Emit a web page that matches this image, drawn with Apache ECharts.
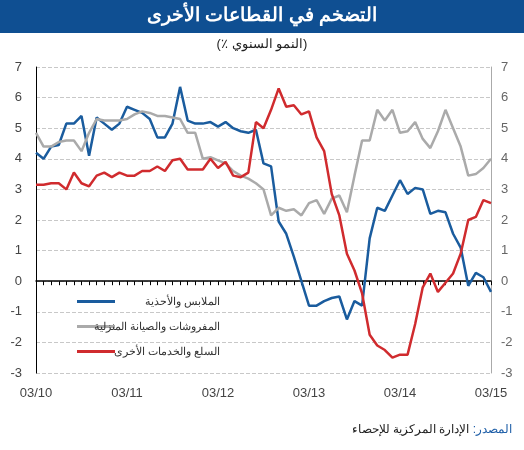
<!DOCTYPE html>
<html><head><meta charset="utf-8">
<script src="https://cdn.jsdelivr.net/npm/echarts@6/dist/echarts.min.js"></script>
<style>html,body{margin:0;padding:0;background:#fff}#c{width:524px;height:450px}</style>
</head><body><div id="c"></div>
<script>
const years = ['03/10','03/11','03/12','03/13','03/14','03/15'];
const clothing = [4.2,4.0,4.4,4.45,5.15,5.15,5.4,4.1,5.35,5.15,4.95,5.15,5.7,5.6,5.5,5.3,4.7,4.7,5.15,6.35,5.25,5.15,5.15,5.2,5.05,5.2,5.0,4.9,4.85,4.95,3.85,3.75,1.95,1.55,0.8,0.0,-0.8,-0.8,-0.65,-0.55,-0.5,-1.25,-0.65,-0.8,1.4,2.4,2.3,2.8,3.3,2.85,3.05,3.0,2.2,2.3,2.25,1.55,1.1,-0.15,0.27,0.13,-0.35];
const furnishings = [4.85,4.4,4.4,4.55,4.6,4.6,4.25,4.85,5.3,5.25,5.25,5.25,5.3,5.45,5.55,5.5,5.4,5.4,5.35,5.3,4.85,4.85,4.0,4.05,3.95,3.85,3.6,3.45,3.35,3.2,3.0,2.15,2.4,2.3,2.35,2.15,2.55,2.65,2.2,2.7,2.8,2.25,3.45,4.6,4.6,5.6,5.25,5.6,4.85,4.9,5.2,4.65,4.35,4.9,5.6,5.0,4.4,3.45,3.5,3.7,4.0];
const goods = [3.15,3.15,3.2,3.2,3.0,3.55,3.2,3.1,3.45,3.55,3.4,3.55,3.45,3.45,3.6,3.6,3.75,3.6,3.95,4.0,3.65,3.65,3.65,4.0,3.7,3.9,3.45,3.4,3.55,5.2,5.0,5.6,6.3,5.7,5.75,5.45,5.55,4.7,4.25,2.85,2.15,0.9,0.35,-0.4,-1.75,-2.1,-2.25,-2.5,-2.4,-2.4,-1.4,-0.2,0.25,-0.35,-0.05,0.25,0.9,2.0,2.1,2.65,2.55];
const seriesNames = ['الملابس والأحذية','المفروشات والصيانة المنزلية','السلع والخدمات الأخرى'];
const months = clothing.map((_, i) => i % 12 === 0 ? years[i / 12] : '');
const font = 'Arial, "Liberation Sans", sans-serif';
const chart = echarts.init(document.getElementById('c'));
chart.setOption({
  animation: false,
  textStyle: {fontFamily: font},
  graphic: [
    {type:'rect', shape:{x:0,y:0,width:524,height:33}, style:{fill:'#0f4f92'}},
    {type:'text', left:'center', top:6, style:{text:'التضخم في القطاعات الأخرى', fill:'#fff', font:'bold 19px '+font}},
    {type:'text', left:'center', top:38, style:{rich:{t:{fill:'#222',font:'13px '+font}}, text:'{t|(٪ }{t|النمو السنوي}{t|)}'}},
    {type:'text', right:12, top:424, style:{rich:{a:{fill:'#1f5fa8',font:'12px '+font},b:{fill:'#222',font:'12px '+font}}, text:'{b|الإدارة المركزية للإحصاء }{a|:}{a|المصدر}'}}
  ],
  grid: {left:36, right:33, top:67, bottom:77},
  legend: {
    orient:'vertical', left:72, top:291, itemGap:14, itemWidth:38, itemHeight:3,
    icon:'rect', data: seriesNames,
    formatter: n => '{r|' + n + '}',
    textStyle:{fontSize:11, color:'#333', rich:{r:{width:100, align:'right', fontSize:11, color:'#333'}}}
  },
  xAxis: [
    {type:'category', data:months, boundaryGap:false,
     axisLine:{onZero:true, lineStyle:{color:'#000', width:1.5}},
     axisTick:{show:true, interval:0, length:4, lineStyle:{color:'#000'}},
     axisLabel:{show:false}, splitLine:{show:false}},
    {type:'category', data:months, boundaryGap:false, position:'bottom',
     axisLine:{show:false, onZero:false}, axisTick:{show:false},
     axisLabel:{interval:0, color:'#444', fontSize:13, margin:14}}
  ],
  yAxis: [
    {type:'value', min:-3, max:7, interval:1,
     axisLine:{show:true, lineStyle:{color:'#000'}}, axisTick:{show:false},
     axisLabel:{color:'#444', fontSize:13, margin:14},
     splitLine:{show:true, lineStyle:{color:'#c8c8c8', type:'dashed'}}},
    {type:'value', min:-3, max:7, interval:1, position:'right',
     axisLine:{show:true, lineStyle:{color:'#aaa'}}, axisTick:{show:false},
     axisLabel:{color:'#666', fontSize:13, margin:10}, splitLine:{show:false}}
  ],
  series: [
    {name:seriesNames[0], type:'line', data:clothing, symbol:'none', lineStyle:{color:'#1a5c9e', width:2.5}, itemStyle:{color:'#1a5c9e'}},
    {name:seriesNames[1], type:'line', data:furnishings, symbol:'none', lineStyle:{color:'#aaaaaa', width:2.5}, itemStyle:{color:'#aaaaaa'}},
    {name:seriesNames[2], type:'line', data:goods, symbol:'none', lineStyle:{color:'#d02b2e', width:2.5}, itemStyle:{color:'#d02b2e'}}
  ]
});
</script></body></html>
